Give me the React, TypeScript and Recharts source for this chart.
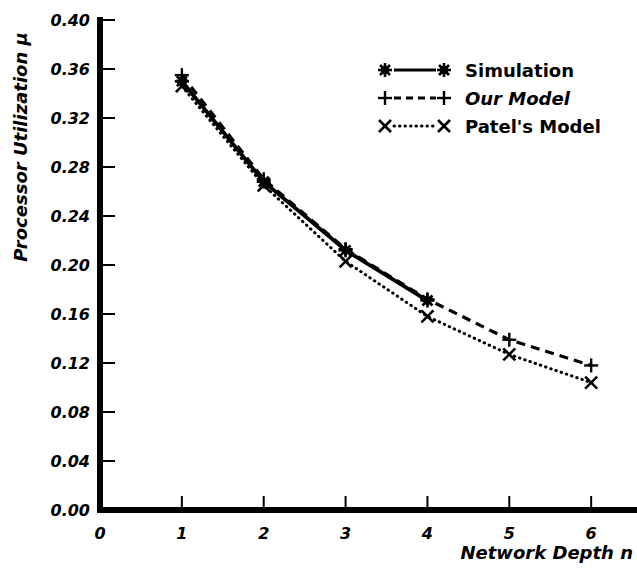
import { LineChart, Line, XAxis, YAxis, Label } from 'recharts'

const depths = [1, 2, 3, 4, 5, 6]
const simulation = [0.35, 0.268, 0.212, 0.171, null, null]
const ourModel = [0.355, 0.27, 0.213, 0.172, 0.139, 0.118]
const patelModel = [0.346, 0.265, 0.203, 0.158, 0.127, 0.104]
const xTicks = [0, 1, 2, 3, 4, 5, 6]
const yTicks = [0, 0.04, 0.08, 0.12, 0.16, 0.2, 0.24, 0.28, 0.32, 0.36, 0.4]

const data = depths.map((n, i) => ({
  n,
  sim: simulation[i],
  our: ourModel[i],
  patel: patelModel[i],
}))

const font = 'DejaVu Sans'
const tickStyle = { fill: '#000', fontSize: 16, fontFamily: font, fontWeight: 700, fontStyle: 'italic' }

function Star({ cx, cy }: { cx: number; cy: number }) {
  const r = 7
  const d = 5
  return (
    <g stroke="#000" strokeWidth={2.6}>
      <line x1={cx - r} y1={cy} x2={cx + r} y2={cy} />
      <line x1={cx} y1={cy - r} x2={cx} y2={cy + r} />
      <line x1={cx - d} y1={cy - d} x2={cx + d} y2={cy + d} />
      <line x1={cx - d} y1={cy + d} x2={cx + d} y2={cy - d} />
      <circle cx={cx} cy={cy} r={3} fill="#000" />
    </g>
  )
}

function Plus({ cx, cy }: { cx: number; cy: number }) {
  const r = 7
  return (
    <g stroke="#000" strokeWidth={2.4}>
      <line x1={cx - r} y1={cy} x2={cx + r} y2={cy} />
      <line x1={cx} y1={cy - r} x2={cx} y2={cy + r} />
    </g>
  )
}

function Cross({ cx, cy }: { cx: number; cy: number }) {
  const r = 6
  return (
    <g stroke="#000" strokeWidth={2.6}>
      <line x1={cx - r} y1={cy - r} x2={cx + r} y2={cy + r} />
      <line x1={cx - r} y1={cy + r} x2={cx + r} y2={cy - r} />
    </g>
  )
}

const dotOf = (Shape: typeof Star) => (p: any) => {
  if (p.cy == null || p.value == null || (Array.isArray(p.value) && p.value[1] == null)) {
    return <g key={p.index} />
  }
  return <Shape key={p.index} cx={p.cx} cy={p.cy} />
}

const legendRows = [
  { name: 'Simulation', Shape: Star, dash: undefined as string | undefined, cap: 'butt', italic: false },
  { name: 'Our Model', Shape: Plus, dash: '7 5', cap: 'butt', italic: true },
  { name: "Patel's Model", Shape: Cross, dash: '0.5 5', cap: 'round', italic: false },
]

function LegendBox() {
  return (
    <div style={{ position: 'absolute', top: 56, left: 378, width: 250 }}>
      {legendRows.map((r) => (
        <div key={r.name} style={{ display: 'flex', alignItems: 'center', height: 28 }}>
          <svg width={74} height={20}>
            <line
              x1={16}
              y1={10}
              x2={58}
              y2={10}
              stroke="#000"
              strokeWidth={3}
              strokeDasharray={r.dash}
              strokeLinecap={r.cap as any}
            />
            <r.Shape cx={7} cy={10} />
            <r.Shape cx={66} cy={10} />
          </svg>
          <span
            style={{
              marginLeft: 13,
              fontFamily: font,
              fontWeight: 700,
              fontSize: 18,
              fontStyle: r.italic ? 'italic' : 'normal',
              color: '#000',
            }}
          >
            {r.name}
          </span>
        </div>
      ))}
    </div>
  )
}

export default function App() {
  return (
    <div style={{ position: 'absolute', left: 0, top: 0, width: 637, height: 570, background: '#fff' }}>
      <LineChart width={637} height={570} data={data} margin={{ top: 20, right: 0, left: 0, bottom: 0 }}>
        <XAxis
          dataKey="n"
          type="number"
          domain={[0, 6.56]}
          ticks={xTicks}
          allowDataOverflow
          height={60}
          axisLine={{ stroke: '#000', strokeWidth: 6, strokeLinecap: 'square' }}
          tickLine={{ stroke: '#000', strokeWidth: 2 }}
          tickSize={-14}
          tickMargin={32}
          tick={tickStyle}
        >
          <Label
            content={(props: any) => {
              const vb = props.viewBox
              return (
                <text
                  x={vb.x + vb.width - 4}
                  y={vb.y + 49}
                  textAnchor="end"
                  fontFamily={font}
                  fontWeight={700}
                  fontStyle="italic"
                  fontSize={18}
                  fill="#000"
                >
                  Network Depth n
                </text>
              )
            }}
          />
        </XAxis>
        <YAxis
          type="number"
          domain={[0, 0.4]}
          ticks={yTicks}
          width={100}
          axisLine={{ stroke: '#000', strokeWidth: 6, strokeLinecap: 'square' }}
          tickLine={{ stroke: '#000', strokeWidth: 2 }}
          tickSize={-15}
          tickMargin={25}
          tick={tickStyle}
          tickFormatter={(v: number) => v.toFixed(2)}
        >
          <Label
            content={(props: any) => {
              const vb = props.viewBox
              const x = vb.x + 20
              const y = vb.y + 127
              return (
                <text
                  x={x}
                  y={y}
                  transform={`rotate(-90 ${x} ${y})`}
                  textAnchor="middle"
                  dominantBaseline="central"
                  fontFamily={font}
                  fontWeight={700}
                  fontStyle="italic"
                  fontSize={18}
                  fill="#000"
                >
                  Processor Utilization μ
                </text>
              )
            }}
          />
        </YAxis>
        <Line
          type="linear"
          dataKey="patel"
          name="Patel's Model"
          stroke="#000"
          strokeWidth={3}
          strokeDasharray="0.5 5"
          strokeLinecap="round"
          dot={dotOf(Cross)}
          isAnimationActive={false}
        />
        <Line
          type="linear"
          dataKey="our"
          name="Our Model"
          stroke="#000"
          strokeWidth={3.2}
          strokeDasharray="9 6"
          dot={dotOf(Plus)}
          isAnimationActive={false}
        />
        <Line
          type="linear"
          dataKey="sim"
          name="Simulation"
          stroke="#000"
          strokeWidth={3.8}
          dot={dotOf(Star)}
          isAnimationActive={false}
        />
      </LineChart>
      <LegendBox />
    </div>
  )
}
